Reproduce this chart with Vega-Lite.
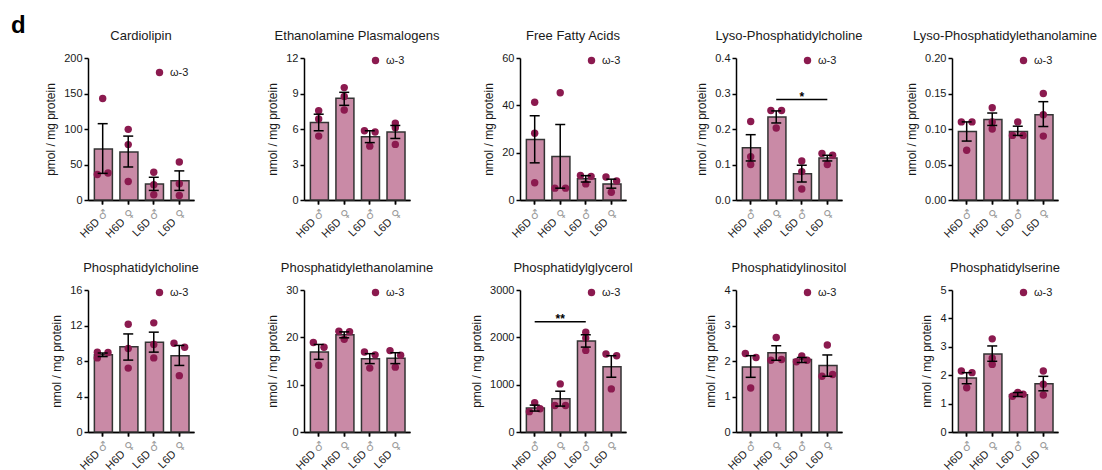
{
"$schema":"https://vega.github.io/schema/vega-lite/v6.json",
"padding":{"left":11,"top":14,"right":0,"bottom":0},
"title":{"text":"d","anchor":"start","frame":"group","fontSize":24,"fontWeight":"bold","color":"#000","dx":-77,"offset":-8},
"datasets":{
"bars":[
{"lipid":"Cardiolipin","group":"H6D ♂","mean":72,"lo":37.5,"hi":107.5},
{"lipid":"Cardiolipin","group":"H6D ♀","mean":67.5,"lo":46.5,"hi":90},
{"lipid":"Cardiolipin","group":"L6D ♂","mean":22.5,"lo":13.5,"hi":32},
{"lipid":"Cardiolipin","group":"L6D ♀","mean":27,"lo":13.5,"hi":41},
{"lipid":"Ethanolamine Plasmalogens","group":"H6D ♂","mean":6.55,"lo":5.85,"hi":7.25},
{"lipid":"Ethanolamine Plasmalogens","group":"H6D ♀","mean":8.6,"lo":8.0,"hi":9.1},
{"lipid":"Ethanolamine Plasmalogens","group":"L6D ♂","mean":5.35,"lo":4.85,"hi":5.85},
{"lipid":"Ethanolamine Plasmalogens","group":"L6D ♀","mean":5.75,"lo":5.2,"hi":6.3},
{"lipid":"Free Fatty Acids","group":"H6D ♂","mean":25.6,"lo":15.7,"hi":35.6},
{"lipid":"Free Fatty Acids","group":"H6D ♀","mean":18.4,"lo":5.0,"hi":31.9},
{"lipid":"Free Fatty Acids","group":"L6D ♂","mean":9.0,"lo":7.6,"hi":10.3},
{"lipid":"Free Fatty Acids","group":"L6D ♀","mean":6.8,"lo":5.0,"hi":8.8},
{"lipid":"Lyso-Phosphatidylcholine","group":"H6D ♂","mean":0.147,"lo":0.11,"hi":0.184},
{"lipid":"Lyso-Phosphatidylcholine","group":"H6D ♀","mean":0.234,"lo":0.217,"hi":0.251},
{"lipid":"Lyso-Phosphatidylcholine","group":"L6D ♂","mean":0.074,"lo":0.051,"hi":0.098},
{"lipid":"Lyso-Phosphatidylcholine","group":"L6D ♀","mean":0.118,"lo":0.11,"hi":0.126},
{"lipid":"Lyso-Phosphatidylethanolamine","group":"H6D ♂","mean":0.0965,"lo":0.083,"hi":0.11},
{"lipid":"Lyso-Phosphatidylethanolamine","group":"H6D ♀","mean":0.1135,"lo":0.105,"hi":0.1225},
{"lipid":"Lyso-Phosphatidylethanolamine","group":"L6D ♂","mean":0.0965,"lo":0.091,"hi":0.104},
{"lipid":"Lyso-Phosphatidylethanolamine","group":"L6D ♀","mean":0.12,"lo":0.1035,"hi":0.1385},
{"lipid":"Phosphatidylcholine","group":"H6D ♂","mean":8.7,"lo":8.5,"hi":8.9},
{"lipid":"Phosphatidylcholine","group":"H6D ♀","mean":9.6,"lo":8.1,"hi":11.05},
{"lipid":"Phosphatidylcholine","group":"L6D ♂","mean":10.1,"lo":9.0,"hi":11.25},
{"lipid":"Phosphatidylcholine","group":"L6D ♀","mean":8.6,"lo":7.5,"hi":9.75},
{"lipid":"Phosphatidylethanolamine","group":"H6D ♂","mean":16.9,"lo":15.35,"hi":18.5},
{"lipid":"Phosphatidylethanolamine","group":"H6D ♀","mean":20.55,"lo":19.9,"hi":21.15},
{"lipid":"Phosphatidylethanolamine","group":"L6D ♂","mean":15.5,"lo":14.45,"hi":16.55},
{"lipid":"Phosphatidylethanolamine","group":"L6D ♀","mean":15.6,"lo":14.45,"hi":16.75},
{"lipid":"Phosphatidylglycerol","group":"H6D ♂","mean":505,"lo":442,"hi":568},
{"lipid":"Phosphatidylglycerol","group":"H6D ♀","mean":700,"lo":547,"hi":862},
{"lipid":"Phosphatidylglycerol","group":"L6D ♂","mean":1920,"lo":1794,"hi":2054},
{"lipid":"Phosphatidylglycerol","group":"L6D ♀","mean":1381,"lo":1157,"hi":1612},
{"lipid":"Phosphatidylinositol","group":"H6D ♂","mean":1.83,"lo":1.54,"hi":2.15},
{"lipid":"Phosphatidylinositol","group":"H6D ♀","mean":2.23,"lo":2.02,"hi":2.43},
{"lipid":"Phosphatidylinositol","group":"L6D ♂","mean":2.04,"lo":1.96,"hi":2.1},
{"lipid":"Phosphatidylinositol","group":"L6D ♀","mean":1.87,"lo":1.57,"hi":2.17},
{"lipid":"Phosphatidylserine","group":"H6D ♂","mean":1.9,"lo":1.7,"hi":2.09},
{"lipid":"Phosphatidylserine","group":"H6D ♀","mean":2.75,"lo":2.49,"hi":3.03},
{"lipid":"Phosphatidylserine","group":"L6D ♂","mean":1.31,"lo":1.25,"hi":1.39},
{"lipid":"Phosphatidylserine","group":"L6D ♀","mean":1.7,"lo":1.45,"hi":1.96}
],
"pts":[
{"lipid":"Cardiolipin","group":"H6D ♂","lane":"C","v":143},
{"lipid":"Cardiolipin","group":"H6D ♂","lane":"L","v":36},
{"lipid":"Cardiolipin","group":"H6D ♂","lane":"R","v":38},
{"lipid":"Cardiolipin","group":"H6D ♀","lane":"C","v":99.5},
{"lipid":"Cardiolipin","group":"H6D ♀","lane":"C","v":78},
{"lipid":"Cardiolipin","group":"H6D ♀","lane":"C","v":26},
{"lipid":"Cardiolipin","group":"L6D ♂","lane":"C","v":39},
{"lipid":"Cardiolipin","group":"L6D ♂","lane":"C","v":21.5},
{"lipid":"Cardiolipin","group":"L6D ♂","lane":"C","v":7.5},
{"lipid":"Cardiolipin","group":"L6D ♀","lane":"C","v":53.5},
{"lipid":"Cardiolipin","group":"L6D ♀","lane":"C","v":23},
{"lipid":"Cardiolipin","group":"L6D ♀","lane":"C","v":6.5},
{"lipid":"Ethanolamine Plasmalogens","group":"H6D ♂","lane":"C","v":7.55},
{"lipid":"Ethanolamine Plasmalogens","group":"H6D ♂","lane":"C","v":6.85},
{"lipid":"Ethanolamine Plasmalogens","group":"H6D ♂","lane":"C","v":5.4},
{"lipid":"Ethanolamine Plasmalogens","group":"H6D ♀","lane":"C","v":9.5},
{"lipid":"Ethanolamine Plasmalogens","group":"H6D ♀","lane":"C","v":8.75},
{"lipid":"Ethanolamine Plasmalogens","group":"H6D ♀","lane":"C","v":7.6},
{"lipid":"Ethanolamine Plasmalogens","group":"L6D ♂","lane":"L","v":5.85},
{"lipid":"Ethanolamine Plasmalogens","group":"L6D ♂","lane":"R","v":5.75},
{"lipid":"Ethanolamine Plasmalogens","group":"L6D ♂","lane":"C","v":4.55},
{"lipid":"Ethanolamine Plasmalogens","group":"L6D ♀","lane":"C","v":6.5},
{"lipid":"Ethanolamine Plasmalogens","group":"L6D ♀","lane":"C","v":6.1},
{"lipid":"Ethanolamine Plasmalogens","group":"L6D ♀","lane":"C","v":4.7},
{"lipid":"Free Fatty Acids","group":"H6D ♂","lane":"C","v":41.3},
{"lipid":"Free Fatty Acids","group":"H6D ♂","lane":"C","v":28.2},
{"lipid":"Free Fatty Acids","group":"H6D ♂","lane":"C","v":7.3},
{"lipid":"Free Fatty Acids","group":"H6D ♀","lane":"C","v":45.3},
{"lipid":"Free Fatty Acids","group":"H6D ♀","lane":"L","v":5.0},
{"lipid":"Free Fatty Acids","group":"H6D ♀","lane":"R","v":5.0},
{"lipid":"Free Fatty Acids","group":"L6D ♂","lane":"L","v":10.4},
{"lipid":"Free Fatty Acids","group":"L6D ♂","lane":"R","v":10.0},
{"lipid":"Free Fatty Acids","group":"L6D ♂","lane":"C","v":6.8},
{"lipid":"Free Fatty Acids","group":"L6D ♀","lane":"L","v":9.7},
{"lipid":"Free Fatty Acids","group":"L6D ♀","lane":"R","v":8.0},
{"lipid":"Free Fatty Acids","group":"L6D ♀","lane":"C","v":3.3},
{"lipid":"Lyso-Phosphatidylcholine","group":"H6D ♂","lane":"C","v":0.221},
{"lipid":"Lyso-Phosphatidylcholine","group":"H6D ♂","lane":"C","v":0.122},
{"lipid":"Lyso-Phosphatidylcholine","group":"H6D ♂","lane":"C","v":0.1},
{"lipid":"Lyso-Phosphatidylcholine","group":"H6D ♀","lane":"L","v":0.252},
{"lipid":"Lyso-Phosphatidylcholine","group":"H6D ♀","lane":"R","v":0.252},
{"lipid":"Lyso-Phosphatidylcholine","group":"H6D ♀","lane":"C","v":0.203},
{"lipid":"Lyso-Phosphatidylcholine","group":"L6D ♂","lane":"C","v":0.11},
{"lipid":"Lyso-Phosphatidylcholine","group":"L6D ♂","lane":"C","v":0.08},
{"lipid":"Lyso-Phosphatidylcholine","group":"L6D ♂","lane":"C","v":0.031},
{"lipid":"Lyso-Phosphatidylcholine","group":"L6D ♀","lane":"L","v":0.131},
{"lipid":"Lyso-Phosphatidylcholine","group":"L6D ♀","lane":"R","v":0.126},
{"lipid":"Lyso-Phosphatidylcholine","group":"L6D ♀","lane":"C","v":0.1},
{"lipid":"Lyso-Phosphatidylethanolamine","group":"H6D ♂","lane":"L","v":0.11},
{"lipid":"Lyso-Phosphatidylethanolamine","group":"H6D ♂","lane":"R","v":0.11},
{"lipid":"Lyso-Phosphatidylethanolamine","group":"H6D ♂","lane":"C","v":0.07},
{"lipid":"Lyso-Phosphatidylethanolamine","group":"H6D ♀","lane":"C","v":0.13},
{"lipid":"Lyso-Phosphatidylethanolamine","group":"H6D ♀","lane":"C","v":0.11},
{"lipid":"Lyso-Phosphatidylethanolamine","group":"H6D ♀","lane":"C","v":0.1},
{"lipid":"Lyso-Phosphatidylethanolamine","group":"L6D ♂","lane":"C","v":0.11},
{"lipid":"Lyso-Phosphatidylethanolamine","group":"L6D ♂","lane":"L","v":0.091},
{"lipid":"Lyso-Phosphatidylethanolamine","group":"L6D ♂","lane":"R","v":0.091},
{"lipid":"Lyso-Phosphatidylethanolamine","group":"L6D ♀","lane":"C","v":0.15},
{"lipid":"Lyso-Phosphatidylethanolamine","group":"L6D ♀","lane":"C","v":0.12},
{"lipid":"Lyso-Phosphatidylethanolamine","group":"L6D ♀","lane":"C","v":0.09},
{"lipid":"Phosphatidylcholine","group":"H6D ♂","lane":"L","v":9.0},
{"lipid":"Phosphatidylcholine","group":"H6D ♂","lane":"R","v":8.95},
{"lipid":"Phosphatidylcholine","group":"H6D ♂","lane":"L","v":8.35},
{"lipid":"Phosphatidylcholine","group":"H6D ♀","lane":"C","v":12.15},
{"lipid":"Phosphatidylcholine","group":"H6D ♀","lane":"C","v":9.4},
{"lipid":"Phosphatidylcholine","group":"H6D ♀","lane":"C","v":7.2},
{"lipid":"Phosphatidylcholine","group":"L6D ♂","lane":"C","v":12.3},
{"lipid":"Phosphatidylcholine","group":"L6D ♂","lane":"C","v":9.85},
{"lipid":"Phosphatidylcholine","group":"L6D ♂","lane":"C","v":8.35},
{"lipid":"Phosphatidylcholine","group":"L6D ♀","lane":"L","v":10.0},
{"lipid":"Phosphatidylcholine","group":"L6D ♀","lane":"R","v":9.55},
{"lipid":"Phosphatidylcholine","group":"L6D ♀","lane":"C","v":6.35},
{"lipid":"Phosphatidylethanolamine","group":"H6D ♂","lane":"L","v":18.9},
{"lipid":"Phosphatidylethanolamine","group":"H6D ♂","lane":"R","v":17.9},
{"lipid":"Phosphatidylethanolamine","group":"H6D ♂","lane":"C","v":14.1},
{"lipid":"Phosphatidylethanolamine","group":"H6D ♀","lane":"L","v":21.3},
{"lipid":"Phosphatidylethanolamine","group":"H6D ♀","lane":"R","v":21.2},
{"lipid":"Phosphatidylethanolamine","group":"H6D ♀","lane":"C","v":19.6},
{"lipid":"Phosphatidylethanolamine","group":"L6D ♂","lane":"L","v":16.9},
{"lipid":"Phosphatidylethanolamine","group":"L6D ♂","lane":"R","v":16.3},
{"lipid":"Phosphatidylethanolamine","group":"L6D ♂","lane":"C","v":13.5},
{"lipid":"Phosphatidylethanolamine","group":"L6D ♀","lane":"L","v":17.2},
{"lipid":"Phosphatidylethanolamine","group":"L6D ♀","lane":"R","v":16.2},
{"lipid":"Phosphatidylethanolamine","group":"L6D ♀","lane":"C","v":13.7},
{"lipid":"Phosphatidylglycerol","group":"H6D ♂","lane":"C","v":617},
{"lipid":"Phosphatidylglycerol","group":"H6D ♂","lane":"L","v":430},
{"lipid":"Phosphatidylglycerol","group":"H6D ♂","lane":"R","v":490},
{"lipid":"Phosphatidylglycerol","group":"H6D ♀","lane":"C","v":1016},
{"lipid":"Phosphatidylglycerol","group":"H6D ♀","lane":"L","v":561},
{"lipid":"Phosphatidylglycerol","group":"H6D ♀","lane":"R","v":561},
{"lipid":"Phosphatidylglycerol","group":"L6D ♂","lane":"C","v":2110},
{"lipid":"Phosphatidylglycerol","group":"L6D ♂","lane":"C","v":1984},
{"lipid":"Phosphatidylglycerol","group":"L6D ♂","lane":"C","v":1724},
{"lipid":"Phosphatidylglycerol","group":"L6D ♀","lane":"L","v":1647},
{"lipid":"Phosphatidylglycerol","group":"L6D ♀","lane":"R","v":1612},
{"lipid":"Phosphatidylglycerol","group":"L6D ♀","lane":"C","v":911},
{"lipid":"Phosphatidylinositol","group":"H6D ♂","lane":"L","v":2.21},
{"lipid":"Phosphatidylinositol","group":"H6D ♂","lane":"R","v":2.1},
{"lipid":"Phosphatidylinositol","group":"H6D ♂","lane":"C","v":1.24},
{"lipid":"Phosphatidylinositol","group":"H6D ♀","lane":"C","v":2.66},
{"lipid":"Phosphatidylinositol","group":"H6D ♀","lane":"L","v":2.02},
{"lipid":"Phosphatidylinositol","group":"H6D ♀","lane":"R","v":2.04},
{"lipid":"Phosphatidylinositol","group":"L6D ♂","lane":"C","v":2.14},
{"lipid":"Phosphatidylinositol","group":"L6D ♂","lane":"L","v":1.98},
{"lipid":"Phosphatidylinositol","group":"L6D ♂","lane":"R","v":2.02},
{"lipid":"Phosphatidylinositol","group":"L6D ♀","lane":"C","v":2.45},
{"lipid":"Phosphatidylinositol","group":"L6D ♀","lane":"L","v":1.57},
{"lipid":"Phosphatidylinositol","group":"L6D ♀","lane":"R","v":1.62},
{"lipid":"Phosphatidylserine","group":"H6D ♂","lane":"L","v":2.15},
{"lipid":"Phosphatidylserine","group":"H6D ♂","lane":"R","v":2.09},
{"lipid":"Phosphatidylserine","group":"H6D ♂","lane":"C","v":1.56},
{"lipid":"Phosphatidylserine","group":"H6D ♀","lane":"C","v":3.28},
{"lipid":"Phosphatidylserine","group":"H6D ♀","lane":"C","v":2.6},
{"lipid":"Phosphatidylserine","group":"H6D ♀","lane":"C","v":2.38},
{"lipid":"Phosphatidylserine","group":"L6D ♂","lane":"C","v":1.39},
{"lipid":"Phosphatidylserine","group":"L6D ♂","lane":"L","v":1.26},
{"lipid":"Phosphatidylserine","group":"L6D ♂","lane":"R","v":1.33},
{"lipid":"Phosphatidylserine","group":"L6D ♀","lane":"C","v":2.15},
{"lipid":"Phosphatidylserine","group":"L6D ♀","lane":"C","v":1.68},
{"lipid":"Phosphatidylserine","group":"L6D ♀","lane":"C","v":1.3}
],
"sig":[
{"lipid":"Lyso-Phosphatidylcholine","g1":"H6D ♀","g2":"L6D ♀","mid":"L6D ♂","y":0.283,"label":"*"},
{"lipid":"Phosphatidylglycerol","g1":"H6D ♂","g2":"L6D ♂","mid":"H6D ♀","y":2330,"label":"**"}
]
},
"columns":5,
"spacing":{"row":90,"column":110},
"bounds":"flush",
"resolve":{"scale":{"color":"independent"},"legend":{"color":"independent"}},
"concat":[
  {"width":106,"height":142,"title":"Cardiolipin","resolve":{"axis":{"x":"independent"}},"layer":[
   {"data":{"name":"bars"},"transform":[{"filter":"datum.lipid=='Cardiolipin'"}],"mark":{"type":"bar","fill":"#c98aa6","stroke":"#333333","strokeWidth":1.5},"encoding":{"x":{"field":"group","type":"nominal","scale":{"domain":["H6D ♂","H6D ♀","L6D ♂","L6D ♀"]},"axis":{"orient":"bottom","title":null,"labelExpr":"split(datum.value,' ')[0]","labelOffset":-9,"labelPadding":12}},"y":{"field":"mean","type":"quantitative","scale":{"domain":[0,200],"nice":false},"axis":{"title":"pmol / mg protein","values":[0,50,100,150,200]}}}},
   {"data":{"name":"pts"},"transform":[{"filter":"datum.lipid=='Cardiolipin'"}],"mark":{"type":"point","filled":true,"size":55,"opacity":1},"encoding":{"x":{"field":"group","type":"nominal","scale":{"domain":["H6D ♂","H6D ♀","L6D ♂","L6D ♀"]},"axis":null},"xOffset":{"field":"lane","type":"nominal","scale":{"type":"point","domain":["L","C","R"],"range":[0.3,16.3]}},"y":{"field":"v","type":"quantitative","scale":{"domain":[0,200],"nice":false},"axis":{"title":"pmol / mg protein","values":[0,50,100,150,200]}},"color":{"datum":"ω-3","scale":{"range":["#8b1a4f"]},"legend":{"title":null,"orient":"none","legendX":66,"legendY":9}}}},
   {"data":{"name":"bars"},"transform":[{"filter":"datum.lipid=='Cardiolipin'"}],"mark":{"type":"rule","color":"#000","strokeWidth":1.5},"encoding":{"x":{"field":"group","type":"nominal","scale":{"domain":["H6D ♂","H6D ♀","L6D ♂","L6D ♀"]},"axis":null},"y":{"field":"lo","type":"quantitative","axis":{"title":"pmol / mg protein","values":[0,50,100,150,200]}},"y2":{"field":"hi"}}},
   {"data":{"name":"bars"},"transform":[{"filter":"datum.lipid=='Cardiolipin'"}],"mark":{"type":"tick","color":"#000","thickness":1.5,"size":10,"opacity":1},"encoding":{"x":{"field":"group","type":"nominal","scale":{"domain":["H6D ♂","H6D ♀","L6D ♂","L6D ♀"]},"axis":null},"y":{"field":"hi","type":"quantitative","axis":{"title":"pmol / mg protein","values":[0,50,100,150,200]}}}},
   {"data":{"name":"bars"},"transform":[{"filter":"datum.lipid=='Cardiolipin'"}],"mark":{"type":"tick","color":"#000","thickness":1.5,"size":10,"opacity":1},"encoding":{"x":{"field":"group","type":"nominal","scale":{"domain":["H6D ♂","H6D ♀","L6D ♂","L6D ♀"]},"axis":{"orient":"bottom","title":null,"labelExpr":"split(datum.value,' ')[1]","labelColor":"#9a9a9a","labelFont":"DejaVu Sans"}},"y":{"field":"lo","type":"quantitative","axis":{"title":"pmol / mg protein","values":[0,50,100,150,200]}}}}
  ]},
  {"width":106,"height":142,"title":"Ethanolamine Plasmalogens","resolve":{"axis":{"x":"independent"}},"layer":[
   {"data":{"name":"bars"},"transform":[{"filter":"datum.lipid=='Ethanolamine Plasmalogens'"}],"mark":{"type":"bar","fill":"#c98aa6","stroke":"#333333","strokeWidth":1.5},"encoding":{"x":{"field":"group","type":"nominal","scale":{"domain":["H6D ♂","H6D ♀","L6D ♂","L6D ♀"]},"axis":{"orient":"bottom","title":null,"labelExpr":"split(datum.value,' ')[0]","labelOffset":-9,"labelPadding":12}},"y":{"field":"mean","type":"quantitative","scale":{"domain":[0,12],"nice":false},"axis":{"title":"nmol / mg protein","values":[0,3,6,9,12]}}}},
   {"data":{"name":"pts"},"transform":[{"filter":"datum.lipid=='Ethanolamine Plasmalogens'"}],"mark":{"type":"point","filled":true,"size":55,"opacity":1},"encoding":{"x":{"field":"group","type":"nominal","scale":{"domain":["H6D ♂","H6D ♀","L6D ♂","L6D ♀"]},"axis":null},"xOffset":{"field":"lane","type":"nominal","scale":{"type":"point","domain":["L","C","R"],"range":[0.3,16.3]}},"y":{"field":"v","type":"quantitative","scale":{"domain":[0,12],"nice":false},"axis":{"title":"nmol / mg protein","values":[0,3,6,9,12]}},"color":{"datum":"ω-3","scale":{"range":["#8b1a4f"]},"legend":{"title":null,"orient":"none","legendX":66,"legendY":-3}}}},
   {"data":{"name":"bars"},"transform":[{"filter":"datum.lipid=='Ethanolamine Plasmalogens'"}],"mark":{"type":"rule","color":"#000","strokeWidth":1.5},"encoding":{"x":{"field":"group","type":"nominal","scale":{"domain":["H6D ♂","H6D ♀","L6D ♂","L6D ♀"]},"axis":null},"y":{"field":"lo","type":"quantitative","axis":{"title":"nmol / mg protein","values":[0,3,6,9,12]}},"y2":{"field":"hi"}}},
   {"data":{"name":"bars"},"transform":[{"filter":"datum.lipid=='Ethanolamine Plasmalogens'"}],"mark":{"type":"tick","color":"#000","thickness":1.5,"size":10,"opacity":1},"encoding":{"x":{"field":"group","type":"nominal","scale":{"domain":["H6D ♂","H6D ♀","L6D ♂","L6D ♀"]},"axis":null},"y":{"field":"hi","type":"quantitative","axis":{"title":"nmol / mg protein","values":[0,3,6,9,12]}}}},
   {"data":{"name":"bars"},"transform":[{"filter":"datum.lipid=='Ethanolamine Plasmalogens'"}],"mark":{"type":"tick","color":"#000","thickness":1.5,"size":10,"opacity":1},"encoding":{"x":{"field":"group","type":"nominal","scale":{"domain":["H6D ♂","H6D ♀","L6D ♂","L6D ♀"]},"axis":{"orient":"bottom","title":null,"labelExpr":"split(datum.value,' ')[1]","labelColor":"#9a9a9a","labelFont":"DejaVu Sans"}},"y":{"field":"lo","type":"quantitative","axis":{"title":"nmol / mg protein","values":[0,3,6,9,12]}}}}
  ]},
  {"width":106,"height":142,"title":"Free Fatty Acids","resolve":{"axis":{"x":"independent"}},"layer":[
   {"data":{"name":"bars"},"transform":[{"filter":"datum.lipid=='Free Fatty Acids'"}],"mark":{"type":"bar","fill":"#c98aa6","stroke":"#333333","strokeWidth":1.5},"encoding":{"x":{"field":"group","type":"nominal","scale":{"domain":["H6D ♂","H6D ♀","L6D ♂","L6D ♀"]},"axis":{"orient":"bottom","title":null,"labelExpr":"split(datum.value,' ')[0]","labelOffset":-9,"labelPadding":12}},"y":{"field":"mean","type":"quantitative","scale":{"domain":[0,60],"nice":false},"axis":{"title":"nmol / mg protein","values":[0,20,40,60]}}}},
   {"data":{"name":"pts"},"transform":[{"filter":"datum.lipid=='Free Fatty Acids'"}],"mark":{"type":"point","filled":true,"size":55,"opacity":1},"encoding":{"x":{"field":"group","type":"nominal","scale":{"domain":["H6D ♂","H6D ♀","L6D ♂","L6D ♀"]},"axis":null},"xOffset":{"field":"lane","type":"nominal","scale":{"type":"point","domain":["L","C","R"],"range":[0.3,16.3]}},"y":{"field":"v","type":"quantitative","scale":{"domain":[0,60],"nice":false},"axis":{"title":"nmol / mg protein","values":[0,20,40,60]}},"color":{"datum":"ω-3","scale":{"range":["#8b1a4f"]},"legend":{"title":null,"orient":"none","legendX":66,"legendY":-3}}}},
   {"data":{"name":"bars"},"transform":[{"filter":"datum.lipid=='Free Fatty Acids'"}],"mark":{"type":"rule","color":"#000","strokeWidth":1.5},"encoding":{"x":{"field":"group","type":"nominal","scale":{"domain":["H6D ♂","H6D ♀","L6D ♂","L6D ♀"]},"axis":null},"y":{"field":"lo","type":"quantitative","axis":{"title":"nmol / mg protein","values":[0,20,40,60]}},"y2":{"field":"hi"}}},
   {"data":{"name":"bars"},"transform":[{"filter":"datum.lipid=='Free Fatty Acids'"}],"mark":{"type":"tick","color":"#000","thickness":1.5,"size":10,"opacity":1},"encoding":{"x":{"field":"group","type":"nominal","scale":{"domain":["H6D ♂","H6D ♀","L6D ♂","L6D ♀"]},"axis":null},"y":{"field":"hi","type":"quantitative","axis":{"title":"nmol / mg protein","values":[0,20,40,60]}}}},
   {"data":{"name":"bars"},"transform":[{"filter":"datum.lipid=='Free Fatty Acids'"}],"mark":{"type":"tick","color":"#000","thickness":1.5,"size":10,"opacity":1},"encoding":{"x":{"field":"group","type":"nominal","scale":{"domain":["H6D ♂","H6D ♀","L6D ♂","L6D ♀"]},"axis":{"orient":"bottom","title":null,"labelExpr":"split(datum.value,' ')[1]","labelColor":"#9a9a9a","labelFont":"DejaVu Sans"}},"y":{"field":"lo","type":"quantitative","axis":{"title":"nmol / mg protein","values":[0,20,40,60]}}}}
  ]},
  {"width":106,"height":142,"title":"Lyso-Phosphatidylcholine","resolve":{"axis":{"x":"independent"}},"layer":[
   {"data":{"name":"bars"},"transform":[{"filter":"datum.lipid=='Lyso-Phosphatidylcholine'"}],"mark":{"type":"bar","fill":"#c98aa6","stroke":"#333333","strokeWidth":1.5},"encoding":{"x":{"field":"group","type":"nominal","scale":{"domain":["H6D ♂","H6D ♀","L6D ♂","L6D ♀"]},"axis":{"orient":"bottom","title":null,"labelExpr":"split(datum.value,' ')[0]","labelOffset":-9,"labelPadding":12}},"y":{"field":"mean","type":"quantitative","scale":{"domain":[0,0.4],"nice":false},"axis":{"title":"nmol / mg protein","values":[0,0.1,0.2,0.3,0.4],"format":".1f"}}}},
   {"data":{"name":"pts"},"transform":[{"filter":"datum.lipid=='Lyso-Phosphatidylcholine'"}],"mark":{"type":"point","filled":true,"size":55,"opacity":1},"encoding":{"x":{"field":"group","type":"nominal","scale":{"domain":["H6D ♂","H6D ♀","L6D ♂","L6D ♀"]},"axis":null},"xOffset":{"field":"lane","type":"nominal","scale":{"type":"point","domain":["L","C","R"],"range":[0.3,16.3]}},"y":{"field":"v","type":"quantitative","scale":{"domain":[0,0.4],"nice":false},"axis":{"title":"nmol / mg protein","values":[0,0.1,0.2,0.3,0.4],"format":".1f"}},"color":{"datum":"ω-3","scale":{"range":["#8b1a4f"]},"legend":{"title":null,"orient":"none","legendX":66,"legendY":-3}}}},
   {"data":{"name":"bars"},"transform":[{"filter":"datum.lipid=='Lyso-Phosphatidylcholine'"}],"mark":{"type":"rule","color":"#000","strokeWidth":1.5},"encoding":{"x":{"field":"group","type":"nominal","scale":{"domain":["H6D ♂","H6D ♀","L6D ♂","L6D ♀"]},"axis":null},"y":{"field":"lo","type":"quantitative","axis":{"title":"nmol / mg protein","values":[0,0.1,0.2,0.3,0.4],"format":".1f"}},"y2":{"field":"hi"}}},
   {"data":{"name":"bars"},"transform":[{"filter":"datum.lipid=='Lyso-Phosphatidylcholine'"}],"mark":{"type":"tick","color":"#000","thickness":1.5,"size":10,"opacity":1},"encoding":{"x":{"field":"group","type":"nominal","scale":{"domain":["H6D ♂","H6D ♀","L6D ♂","L6D ♀"]},"axis":null},"y":{"field":"hi","type":"quantitative","axis":{"title":"nmol / mg protein","values":[0,0.1,0.2,0.3,0.4],"format":".1f"}}}},
   {"data":{"name":"bars"},"transform":[{"filter":"datum.lipid=='Lyso-Phosphatidylcholine'"}],"mark":{"type":"tick","color":"#000","thickness":1.5,"size":10,"opacity":1},"encoding":{"x":{"field":"group","type":"nominal","scale":{"domain":["H6D ♂","H6D ♀","L6D ♂","L6D ♀"]},"axis":{"orient":"bottom","title":null,"labelExpr":"split(datum.value,' ')[1]","labelColor":"#9a9a9a","labelFont":"DejaVu Sans"}},"y":{"field":"lo","type":"quantitative","axis":{"title":"nmol / mg protein","values":[0,0.1,0.2,0.3,0.4],"format":".1f"}}}},
   {"data":{"name":"sig"},"transform":[{"filter":"datum.lipid=='Lyso-Phosphatidylcholine'"}],"mark":{"type":"rule","color":"#000","strokeWidth":1.5},"encoding":{"x":{"field":"g1","type":"nominal","scale":{"domain":["H6D ♂","H6D ♀","L6D ♂","L6D ♀"]},"axis":null},"x2":{"field":"g2"},"y":{"field":"y","type":"quantitative","axis":{"title":"nmol / mg protein","values":[0,0.1,0.2,0.3,0.4],"format":".1f"}}}},
   {"data":{"name":"sig"},"transform":[{"filter":"datum.lipid=='Lyso-Phosphatidylcholine'"}],"mark":{"type":"text","fontSize":12,"fontWeight":"bold","baseline":"middle","dy":-3,"color":"#000"},"encoding":{"x":{"field":"mid","type":"nominal","scale":{"domain":["H6D ♂","H6D ♀","L6D ♂","L6D ♀"]},"axis":null},"y":{"field":"y","type":"quantitative","axis":{"title":"nmol / mg protein","values":[0,0.1,0.2,0.3,0.4],"format":".1f"}},"text":{"field":"label"}}}
  ]},
  {"width":106,"height":142,"title":"Lyso-Phosphatidylethanolamine","resolve":{"axis":{"x":"independent"}},"layer":[
   {"data":{"name":"bars"},"transform":[{"filter":"datum.lipid=='Lyso-Phosphatidylethanolamine'"}],"mark":{"type":"bar","fill":"#c98aa6","stroke":"#333333","strokeWidth":1.5},"encoding":{"x":{"field":"group","type":"nominal","scale":{"domain":["H6D ♂","H6D ♀","L6D ♂","L6D ♀"]},"axis":{"orient":"bottom","title":null,"labelExpr":"split(datum.value,' ')[0]","labelOffset":-9,"labelPadding":12}},"y":{"field":"mean","type":"quantitative","scale":{"domain":[0,0.2],"nice":false},"axis":{"title":"nmol / mg protein","values":[0,0.05,0.1,0.15,0.2],"format":".2f"}}}},
   {"data":{"name":"pts"},"transform":[{"filter":"datum.lipid=='Lyso-Phosphatidylethanolamine'"}],"mark":{"type":"point","filled":true,"size":55,"opacity":1},"encoding":{"x":{"field":"group","type":"nominal","scale":{"domain":["H6D ♂","H6D ♀","L6D ♂","L6D ♀"]},"axis":null},"xOffset":{"field":"lane","type":"nominal","scale":{"type":"point","domain":["L","C","R"],"range":[0.3,16.3]}},"y":{"field":"v","type":"quantitative","scale":{"domain":[0,0.2],"nice":false},"axis":{"title":"nmol / mg protein","values":[0,0.05,0.1,0.15,0.2],"format":".2f"}},"color":{"datum":"ω-3","scale":{"range":["#8b1a4f"]},"legend":{"title":null,"orient":"none","legendX":66,"legendY":-3}}}},
   {"data":{"name":"bars"},"transform":[{"filter":"datum.lipid=='Lyso-Phosphatidylethanolamine'"}],"mark":{"type":"rule","color":"#000","strokeWidth":1.5},"encoding":{"x":{"field":"group","type":"nominal","scale":{"domain":["H6D ♂","H6D ♀","L6D ♂","L6D ♀"]},"axis":null},"y":{"field":"lo","type":"quantitative","axis":{"title":"nmol / mg protein","values":[0,0.05,0.1,0.15,0.2],"format":".2f"}},"y2":{"field":"hi"}}},
   {"data":{"name":"bars"},"transform":[{"filter":"datum.lipid=='Lyso-Phosphatidylethanolamine'"}],"mark":{"type":"tick","color":"#000","thickness":1.5,"size":10,"opacity":1},"encoding":{"x":{"field":"group","type":"nominal","scale":{"domain":["H6D ♂","H6D ♀","L6D ♂","L6D ♀"]},"axis":null},"y":{"field":"hi","type":"quantitative","axis":{"title":"nmol / mg protein","values":[0,0.05,0.1,0.15,0.2],"format":".2f"}}}},
   {"data":{"name":"bars"},"transform":[{"filter":"datum.lipid=='Lyso-Phosphatidylethanolamine'"}],"mark":{"type":"tick","color":"#000","thickness":1.5,"size":10,"opacity":1},"encoding":{"x":{"field":"group","type":"nominal","scale":{"domain":["H6D ♂","H6D ♀","L6D ♂","L6D ♀"]},"axis":{"orient":"bottom","title":null,"labelExpr":"split(datum.value,' ')[1]","labelColor":"#9a9a9a","labelFont":"DejaVu Sans"}},"y":{"field":"lo","type":"quantitative","axis":{"title":"nmol / mg protein","values":[0,0.05,0.1,0.15,0.2],"format":".2f"}}}}
  ]},
  {"width":106,"height":142,"title":"Phosphatidylcholine","resolve":{"axis":{"x":"independent"}},"layer":[
   {"data":{"name":"bars"},"transform":[{"filter":"datum.lipid=='Phosphatidylcholine'"}],"mark":{"type":"bar","fill":"#c98aa6","stroke":"#333333","strokeWidth":1.5},"encoding":{"x":{"field":"group","type":"nominal","scale":{"domain":["H6D ♂","H6D ♀","L6D ♂","L6D ♀"]},"axis":{"orient":"bottom","title":null,"labelExpr":"split(datum.value,' ')[0]","labelOffset":-9,"labelPadding":12}},"y":{"field":"mean","type":"quantitative","scale":{"domain":[0,16],"nice":false},"axis":{"title":"nmol / mg protein","values":[0,4,8,12,16]}}}},
   {"data":{"name":"pts"},"transform":[{"filter":"datum.lipid=='Phosphatidylcholine'"}],"mark":{"type":"point","filled":true,"size":55,"opacity":1},"encoding":{"x":{"field":"group","type":"nominal","scale":{"domain":["H6D ♂","H6D ♀","L6D ♂","L6D ♀"]},"axis":null},"xOffset":{"field":"lane","type":"nominal","scale":{"type":"point","domain":["L","C","R"],"range":[0.3,16.3]}},"y":{"field":"v","type":"quantitative","scale":{"domain":[0,16],"nice":false},"axis":{"title":"nmol / mg protein","values":[0,4,8,12,16]}},"color":{"datum":"ω-3","scale":{"range":["#8b1a4f"]},"legend":{"title":null,"orient":"none","legendX":66,"legendY":-3}}}},
   {"data":{"name":"bars"},"transform":[{"filter":"datum.lipid=='Phosphatidylcholine'"}],"mark":{"type":"rule","color":"#000","strokeWidth":1.5},"encoding":{"x":{"field":"group","type":"nominal","scale":{"domain":["H6D ♂","H6D ♀","L6D ♂","L6D ♀"]},"axis":null},"y":{"field":"lo","type":"quantitative","axis":{"title":"nmol / mg protein","values":[0,4,8,12,16]}},"y2":{"field":"hi"}}},
   {"data":{"name":"bars"},"transform":[{"filter":"datum.lipid=='Phosphatidylcholine'"}],"mark":{"type":"tick","color":"#000","thickness":1.5,"size":10,"opacity":1},"encoding":{"x":{"field":"group","type":"nominal","scale":{"domain":["H6D ♂","H6D ♀","L6D ♂","L6D ♀"]},"axis":null},"y":{"field":"hi","type":"quantitative","axis":{"title":"nmol / mg protein","values":[0,4,8,12,16]}}}},
   {"data":{"name":"bars"},"transform":[{"filter":"datum.lipid=='Phosphatidylcholine'"}],"mark":{"type":"tick","color":"#000","thickness":1.5,"size":10,"opacity":1},"encoding":{"x":{"field":"group","type":"nominal","scale":{"domain":["H6D ♂","H6D ♀","L6D ♂","L6D ♀"]},"axis":{"orient":"bottom","title":null,"labelExpr":"split(datum.value,' ')[1]","labelColor":"#9a9a9a","labelFont":"DejaVu Sans"}},"y":{"field":"lo","type":"quantitative","axis":{"title":"nmol / mg protein","values":[0,4,8,12,16]}}}}
  ]},
  {"width":106,"height":142,"title":"Phosphatidylethanolamine","resolve":{"axis":{"x":"independent"}},"layer":[
   {"data":{"name":"bars"},"transform":[{"filter":"datum.lipid=='Phosphatidylethanolamine'"}],"mark":{"type":"bar","fill":"#c98aa6","stroke":"#333333","strokeWidth":1.5},"encoding":{"x":{"field":"group","type":"nominal","scale":{"domain":["H6D ♂","H6D ♀","L6D ♂","L6D ♀"]},"axis":{"orient":"bottom","title":null,"labelExpr":"split(datum.value,' ')[0]","labelOffset":-9,"labelPadding":12}},"y":{"field":"mean","type":"quantitative","scale":{"domain":[0,30],"nice":false},"axis":{"title":"nmol / mg protein","values":[0,10,20,30]}}}},
   {"data":{"name":"pts"},"transform":[{"filter":"datum.lipid=='Phosphatidylethanolamine'"}],"mark":{"type":"point","filled":true,"size":55,"opacity":1},"encoding":{"x":{"field":"group","type":"nominal","scale":{"domain":["H6D ♂","H6D ♀","L6D ♂","L6D ♀"]},"axis":null},"xOffset":{"field":"lane","type":"nominal","scale":{"type":"point","domain":["L","C","R"],"range":[0.3,16.3]}},"y":{"field":"v","type":"quantitative","scale":{"domain":[0,30],"nice":false},"axis":{"title":"nmol / mg protein","values":[0,10,20,30]}},"color":{"datum":"ω-3","scale":{"range":["#8b1a4f"]},"legend":{"title":null,"orient":"none","legendX":66,"legendY":-3}}}},
   {"data":{"name":"bars"},"transform":[{"filter":"datum.lipid=='Phosphatidylethanolamine'"}],"mark":{"type":"rule","color":"#000","strokeWidth":1.5},"encoding":{"x":{"field":"group","type":"nominal","scale":{"domain":["H6D ♂","H6D ♀","L6D ♂","L6D ♀"]},"axis":null},"y":{"field":"lo","type":"quantitative","axis":{"title":"nmol / mg protein","values":[0,10,20,30]}},"y2":{"field":"hi"}}},
   {"data":{"name":"bars"},"transform":[{"filter":"datum.lipid=='Phosphatidylethanolamine'"}],"mark":{"type":"tick","color":"#000","thickness":1.5,"size":10,"opacity":1},"encoding":{"x":{"field":"group","type":"nominal","scale":{"domain":["H6D ♂","H6D ♀","L6D ♂","L6D ♀"]},"axis":null},"y":{"field":"hi","type":"quantitative","axis":{"title":"nmol / mg protein","values":[0,10,20,30]}}}},
   {"data":{"name":"bars"},"transform":[{"filter":"datum.lipid=='Phosphatidylethanolamine'"}],"mark":{"type":"tick","color":"#000","thickness":1.5,"size":10,"opacity":1},"encoding":{"x":{"field":"group","type":"nominal","scale":{"domain":["H6D ♂","H6D ♀","L6D ♂","L6D ♀"]},"axis":{"orient":"bottom","title":null,"labelExpr":"split(datum.value,' ')[1]","labelColor":"#9a9a9a","labelFont":"DejaVu Sans"}},"y":{"field":"lo","type":"quantitative","axis":{"title":"nmol / mg protein","values":[0,10,20,30]}}}}
  ]},
  {"width":106,"height":142,"title":"Phosphatidylglycerol","resolve":{"axis":{"x":"independent"}},"layer":[
   {"data":{"name":"bars"},"transform":[{"filter":"datum.lipid=='Phosphatidylglycerol'"}],"mark":{"type":"bar","fill":"#c98aa6","stroke":"#333333","strokeWidth":1.5},"encoding":{"x":{"field":"group","type":"nominal","scale":{"domain":["H6D ♂","H6D ♀","L6D ♂","L6D ♀"]},"axis":{"orient":"bottom","title":null,"labelExpr":"split(datum.value,' ')[0]","labelOffset":-9,"labelPadding":12}},"y":{"field":"mean","type":"quantitative","scale":{"domain":[0,3000],"nice":false},"axis":{"title":"pmol / mg protein","values":[0,1000,2000,3000],"format":"d"}}}},
   {"data":{"name":"pts"},"transform":[{"filter":"datum.lipid=='Phosphatidylglycerol'"}],"mark":{"type":"point","filled":true,"size":55,"opacity":1},"encoding":{"x":{"field":"group","type":"nominal","scale":{"domain":["H6D ♂","H6D ♀","L6D ♂","L6D ♀"]},"axis":null},"xOffset":{"field":"lane","type":"nominal","scale":{"type":"point","domain":["L","C","R"],"range":[0.3,16.3]}},"y":{"field":"v","type":"quantitative","scale":{"domain":[0,3000],"nice":false},"axis":{"title":"pmol / mg protein","values":[0,1000,2000,3000],"format":"d"}},"color":{"datum":"ω-3","scale":{"range":["#8b1a4f"]},"legend":{"title":null,"orient":"none","legendX":66,"legendY":-3}}}},
   {"data":{"name":"bars"},"transform":[{"filter":"datum.lipid=='Phosphatidylglycerol'"}],"mark":{"type":"rule","color":"#000","strokeWidth":1.5},"encoding":{"x":{"field":"group","type":"nominal","scale":{"domain":["H6D ♂","H6D ♀","L6D ♂","L6D ♀"]},"axis":null},"y":{"field":"lo","type":"quantitative","axis":{"title":"pmol / mg protein","values":[0,1000,2000,3000],"format":"d"}},"y2":{"field":"hi"}}},
   {"data":{"name":"bars"},"transform":[{"filter":"datum.lipid=='Phosphatidylglycerol'"}],"mark":{"type":"tick","color":"#000","thickness":1.5,"size":10,"opacity":1},"encoding":{"x":{"field":"group","type":"nominal","scale":{"domain":["H6D ♂","H6D ♀","L6D ♂","L6D ♀"]},"axis":null},"y":{"field":"hi","type":"quantitative","axis":{"title":"pmol / mg protein","values":[0,1000,2000,3000],"format":"d"}}}},
   {"data":{"name":"bars"},"transform":[{"filter":"datum.lipid=='Phosphatidylglycerol'"}],"mark":{"type":"tick","color":"#000","thickness":1.5,"size":10,"opacity":1},"encoding":{"x":{"field":"group","type":"nominal","scale":{"domain":["H6D ♂","H6D ♀","L6D ♂","L6D ♀"]},"axis":{"orient":"bottom","title":null,"labelExpr":"split(datum.value,' ')[1]","labelColor":"#9a9a9a","labelFont":"DejaVu Sans"}},"y":{"field":"lo","type":"quantitative","axis":{"title":"pmol / mg protein","values":[0,1000,2000,3000],"format":"d"}}}},
   {"data":{"name":"sig"},"transform":[{"filter":"datum.lipid=='Phosphatidylglycerol'"}],"mark":{"type":"rule","color":"#000","strokeWidth":1.5},"encoding":{"x":{"field":"g1","type":"nominal","scale":{"domain":["H6D ♂","H6D ♀","L6D ♂","L6D ♀"]},"axis":null},"x2":{"field":"g2"},"y":{"field":"y","type":"quantitative","axis":{"title":"pmol / mg protein","values":[0,1000,2000,3000],"format":"d"}}}},
   {"data":{"name":"sig"},"transform":[{"filter":"datum.lipid=='Phosphatidylglycerol'"}],"mark":{"type":"text","fontSize":12,"fontWeight":"bold","baseline":"middle","dy":-3,"color":"#000"},"encoding":{"x":{"field":"mid","type":"nominal","scale":{"domain":["H6D ♂","H6D ♀","L6D ♂","L6D ♀"]},"axis":null},"y":{"field":"y","type":"quantitative","axis":{"title":"pmol / mg protein","values":[0,1000,2000,3000],"format":"d"}},"text":{"field":"label"}}}
  ]},
  {"width":106,"height":142,"title":"Phosphatidylinositol","resolve":{"axis":{"x":"independent"}},"layer":[
   {"data":{"name":"bars"},"transform":[{"filter":"datum.lipid=='Phosphatidylinositol'"}],"mark":{"type":"bar","fill":"#c98aa6","stroke":"#333333","strokeWidth":1.5},"encoding":{"x":{"field":"group","type":"nominal","scale":{"domain":["H6D ♂","H6D ♀","L6D ♂","L6D ♀"]},"axis":{"orient":"bottom","title":null,"labelExpr":"split(datum.value,' ')[0]","labelOffset":-9,"labelPadding":12}},"y":{"field":"mean","type":"quantitative","scale":{"domain":[0,4],"nice":false},"axis":{"title":"nmol / mg protein","values":[0,1,2,3,4]}}}},
   {"data":{"name":"pts"},"transform":[{"filter":"datum.lipid=='Phosphatidylinositol'"}],"mark":{"type":"point","filled":true,"size":55,"opacity":1},"encoding":{"x":{"field":"group","type":"nominal","scale":{"domain":["H6D ♂","H6D ♀","L6D ♂","L6D ♀"]},"axis":null},"xOffset":{"field":"lane","type":"nominal","scale":{"type":"point","domain":["L","C","R"],"range":[0.3,16.3]}},"y":{"field":"v","type":"quantitative","scale":{"domain":[0,4],"nice":false},"axis":{"title":"nmol / mg protein","values":[0,1,2,3,4]}},"color":{"datum":"ω-3","scale":{"range":["#8b1a4f"]},"legend":{"title":null,"orient":"none","legendX":66,"legendY":-3}}}},
   {"data":{"name":"bars"},"transform":[{"filter":"datum.lipid=='Phosphatidylinositol'"}],"mark":{"type":"rule","color":"#000","strokeWidth":1.5},"encoding":{"x":{"field":"group","type":"nominal","scale":{"domain":["H6D ♂","H6D ♀","L6D ♂","L6D ♀"]},"axis":null},"y":{"field":"lo","type":"quantitative","axis":{"title":"nmol / mg protein","values":[0,1,2,3,4]}},"y2":{"field":"hi"}}},
   {"data":{"name":"bars"},"transform":[{"filter":"datum.lipid=='Phosphatidylinositol'"}],"mark":{"type":"tick","color":"#000","thickness":1.5,"size":10,"opacity":1},"encoding":{"x":{"field":"group","type":"nominal","scale":{"domain":["H6D ♂","H6D ♀","L6D ♂","L6D ♀"]},"axis":null},"y":{"field":"hi","type":"quantitative","axis":{"title":"nmol / mg protein","values":[0,1,2,3,4]}}}},
   {"data":{"name":"bars"},"transform":[{"filter":"datum.lipid=='Phosphatidylinositol'"}],"mark":{"type":"tick","color":"#000","thickness":1.5,"size":10,"opacity":1},"encoding":{"x":{"field":"group","type":"nominal","scale":{"domain":["H6D ♂","H6D ♀","L6D ♂","L6D ♀"]},"axis":{"orient":"bottom","title":null,"labelExpr":"split(datum.value,' ')[1]","labelColor":"#9a9a9a","labelFont":"DejaVu Sans"}},"y":{"field":"lo","type":"quantitative","axis":{"title":"nmol / mg protein","values":[0,1,2,3,4]}}}}
  ]},
  {"width":106,"height":142,"title":"Phosphatidylserine","resolve":{"axis":{"x":"independent"}},"layer":[
   {"data":{"name":"bars"},"transform":[{"filter":"datum.lipid=='Phosphatidylserine'"}],"mark":{"type":"bar","fill":"#c98aa6","stroke":"#333333","strokeWidth":1.5},"encoding":{"x":{"field":"group","type":"nominal","scale":{"domain":["H6D ♂","H6D ♀","L6D ♂","L6D ♀"]},"axis":{"orient":"bottom","title":null,"labelExpr":"split(datum.value,' ')[0]","labelOffset":-9,"labelPadding":12}},"y":{"field":"mean","type":"quantitative","scale":{"domain":[0,5],"nice":false},"axis":{"title":"nmol / mg protein","values":[0,1,2,3,4,5]}}}},
   {"data":{"name":"pts"},"transform":[{"filter":"datum.lipid=='Phosphatidylserine'"}],"mark":{"type":"point","filled":true,"size":55,"opacity":1},"encoding":{"x":{"field":"group","type":"nominal","scale":{"domain":["H6D ♂","H6D ♀","L6D ♂","L6D ♀"]},"axis":null},"xOffset":{"field":"lane","type":"nominal","scale":{"type":"point","domain":["L","C","R"],"range":[0.3,16.3]}},"y":{"field":"v","type":"quantitative","scale":{"domain":[0,5],"nice":false},"axis":{"title":"nmol / mg protein","values":[0,1,2,3,4,5]}},"color":{"datum":"ω-3","scale":{"range":["#8b1a4f"]},"legend":{"title":null,"orient":"none","legendX":66,"legendY":-3}}}},
   {"data":{"name":"bars"},"transform":[{"filter":"datum.lipid=='Phosphatidylserine'"}],"mark":{"type":"rule","color":"#000","strokeWidth":1.5},"encoding":{"x":{"field":"group","type":"nominal","scale":{"domain":["H6D ♂","H6D ♀","L6D ♂","L6D ♀"]},"axis":null},"y":{"field":"lo","type":"quantitative","axis":{"title":"nmol / mg protein","values":[0,1,2,3,4,5]}},"y2":{"field":"hi"}}},
   {"data":{"name":"bars"},"transform":[{"filter":"datum.lipid=='Phosphatidylserine'"}],"mark":{"type":"tick","color":"#000","thickness":1.5,"size":10,"opacity":1},"encoding":{"x":{"field":"group","type":"nominal","scale":{"domain":["H6D ♂","H6D ♀","L6D ♂","L6D ♀"]},"axis":null},"y":{"field":"hi","type":"quantitative","axis":{"title":"nmol / mg protein","values":[0,1,2,3,4,5]}}}},
   {"data":{"name":"bars"},"transform":[{"filter":"datum.lipid=='Phosphatidylserine'"}],"mark":{"type":"tick","color":"#000","thickness":1.5,"size":10,"opacity":1},"encoding":{"x":{"field":"group","type":"nominal","scale":{"domain":["H6D ♂","H6D ♀","L6D ♂","L6D ♀"]},"axis":{"orient":"bottom","title":null,"labelExpr":"split(datum.value,' ')[1]","labelColor":"#9a9a9a","labelFont":"DejaVu Sans"}},"y":{"field":"lo","type":"quantitative","axis":{"title":"nmol / mg protein","values":[0,1,2,3,4,5]}}}}
  ]}
],
"config":{
 "font":"Liberation Sans",
 "view":{"stroke":null},
 "scale":{"bandPaddingInner":0.35,"bandPaddingOuter":0.25},
 "axis":{"grid":false,"domainColor":"#000","domainWidth":1.5,"tickColor":"#000","tickWidth":1.5,"tickSize":4,"labelFont":"Liberation Sans","labelFontSize":11,"labelColor":"#1a1a1a","labelPadding":2,"titleFont":"Liberation Sans","titleFontSize":12,"titleFontWeight":"normal","titleColor":"#1a1a1a","titlePadding":6},
 "axisX":{"labelAngle":-45,"labelPadding":3},
 "axisY":{"labelFontSize":11,"labelOverlap":false},
 "title":{"font":"Liberation Sans","fontSize":13,"fontWeight":"normal","color":"#1a1a1a","offset":9},
 "legend":{"symbolType":"circle","symbolSize":55,"labelFont":"Liberation Sans","labelFontSize":11,"labelColor":"#1a1a1a","padding":0,"labelOffset":5,"symbolStrokeWidth":0}
}
}
